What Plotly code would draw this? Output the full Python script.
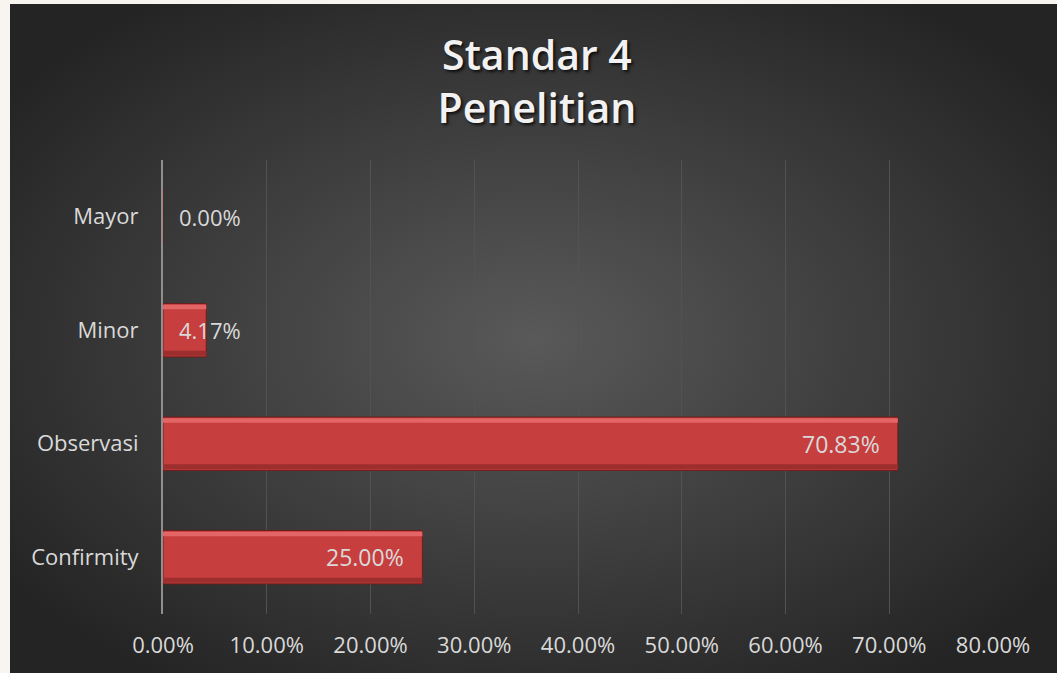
import base64
import plotly.graph_objects as go

# data
categories = ["Confirmity", "Observasi", "Minor", "Mayor"]
values = [0.25, 0.7083, 0.0417, 0.0]
x_ticks = [0, 0.1, 0.2, 0.3, 0.4, 0.5, 0.6, 0.7, 0.8]
title_lines = ["Standar 4", "Penelitian"]

W, H = 1057, 673
ml, mr, mt, mb = 163, 64, 160, 59
pw, ph = W - ml - mr, H - mt - mb

bar_red = "#c73e3e"
label_col = "#d9d9d9"
font_fam = "'Open Sans', Lato, sans-serif"

# radial gradient backdrop as svg
svg = """<svg xmlns='http://www.w3.org/2000/svg' width='1047' height='669' preserveAspectRatio='none'>
<defs><radialGradient id='g' cx='0.5' cy='0.5' r='0.62'>
<stop offset='0' stop-color='#595959'/><stop offset='0.55' stop-color='#3c3c3c'/><stop offset='1' stop-color='#242424'/>
</radialGradient></defs><rect width='1047' height='669' fill='url(#g)'/></svg>"""
bg_src = "data:image/svg+xml;base64," + base64.b64encode(svg.encode()).decode()

def px_x(p):
    return (p - ml) / pw

def px_y(p):
    return (H - mb - p) / ph

fig = go.Figure()

# main bars
fig.add_trace(go.Bar(
    y=categories, x=values, orientation="h",
    width=0.47, offset=-0.235,
    marker=dict(color=bar_red, line=dict(color="#6e1c1c", width=1)),
    hoverinfo="skip", showlegend=False,
))
# bevel highlight (top) and shade (bottom)
fig.add_trace(go.Bar(
    y=categories, x=values, orientation="h",
    width=0.04, offset=0.185,
    marker=dict(color="#e46565", line=dict(width=0)),
    hoverinfo="skip", showlegend=False,
))
fig.add_trace(go.Bar(
    y=categories, x=values, orientation="h",
    width=0.045, offset=-0.225,
    marker=dict(color="#9c2e2e", line=dict(width=0)),
    hoverinfo="skip", showlegend=False,
))

annotations = []
for c, v in zip(categories, values):
    txt = f"{v * 100:.2f}%"
    if v > 0.1:
        annotations.append(dict(x=v, y=c, text=txt, xanchor="right", xshift=-16,
                                showarrow=False, font=dict(size=23, color=label_col, family=font_fam)))
    else:
        annotations.append(dict(x=0, y=c, text=txt, xanchor="left", xshift=14,
                                showarrow=False, font=dict(size=22, color=label_col, family=font_fam)))

fig.update_layout(
    width=W, height=H,
    margin=dict(l=ml, r=mr, t=mt, b=mb),
    paper_bgcolor="#f8f5f0",
    plot_bgcolor="rgba(0,0,0,0)",
    barmode="overlay",
    images=[dict(source=bg_src, xref="paper", yref="paper",
                 x=px_x(10), y=px_y(4), sizex=px_x(W) - px_x(10), sizey=px_y(4) - px_y(H),
                 xanchor="left", yanchor="top", sizing="stretch", layer="below")],
    title=dict(
        text="<br>".join(title_lines),
        x=0.508, xref="container", xanchor="center",
        y=1 - 70 / H, yref="container", yanchor="middle",
        font=dict(size=41, color="#f2f2f2", family=font_fam, weight=600,
                  shadow="2px 2px 3px rgba(0,0,0,0.75)"),
    ),
    xaxis=dict(
        range=[0, 0.8], tickvals=x_ticks,
        ticktext=[f"{t * 100:.2f}%" for t in x_ticks],
        showgrid=True, gridcolor="#525252", gridwidth=1,
        zeroline=False, showline=False,
        ticks="outside", ticklen=12, tickcolor="rgba(0,0,0,0)",
        tickfont=dict(size=22, color=label_col, family=font_fam),
        fixedrange=True,
    ),
    yaxis=dict(
        categoryorder="array", categoryarray=categories,
        showgrid=False, zeroline=False,
        showline=True, linecolor="#8f8f8f", linewidth=2,
        ticks="outside", ticklen=18, tickcolor="rgba(0,0,0,0)",
        tickfont=dict(size=22, color=label_col, family=font_fam),
        fixedrange=True,
    ),
    annotations=annotations,
)

fig.write_html("out.html", config={"displayModeBar": False},
               post_script="document.body.style.margin='0';document.body.style.background='#f8f5f0';")
